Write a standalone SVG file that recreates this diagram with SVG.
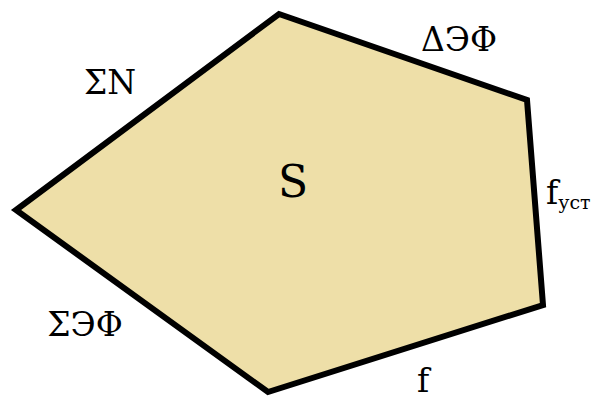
<svg xmlns="http://www.w3.org/2000/svg" width="595" height="399" viewBox="0 0 595 399">
<style>
text{font-family:"DejaVu Serif",serif;fill:#000}
.lbl{font-size:33px}
.big{font-size:44px}
.sub{font-size:19px}
</style>
<rect width="595" height="399" fill="#fff"/>
<g id="pentagon">
<polygon points="279,14 527,100 543,305 268,392 16,210" fill="#EEDFA8" stroke="#000" stroke-width="6" stroke-linejoin="miter"/>
<text class="big" x="293" y="197" text-anchor="middle">S</text>
</g>
<g id="labels">
<text class="lbl" x="110" y="94" text-anchor="middle">ΣN</text>
<text class="lbl" x="459" y="51" text-anchor="middle">ΔЭΦ</text>
<text class="lbl" x="546" y="204">f<tspan class="sub" dy="5">уст</tspan></text>
<text class="lbl" x="85" y="336" text-anchor="middle">ΣЭΦ</text>
<text class="lbl" x="423" y="392" text-anchor="middle">f</text>
</g>
</svg>
